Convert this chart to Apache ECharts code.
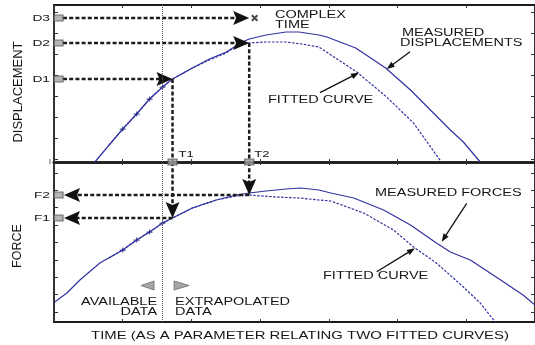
<!DOCTYPE html>
<html>
<head>
<meta charset="utf-8">
<script src="https://cdn.jsdelivr.net/npm/echarts@6/dist/echarts.min.js"></script>
<style>
  html, body { margin: 0; padding: 0; background: #fff; }
  #chart { width: 535px; height: 345px; }
</style>
</head>
<body>
<div id="chart"></div>
<script>
// ---- Scales -------------------------------------------------------------
const TIME_TICKS = [0, 1, 2, 3, 4, 5, 6, 7];
const DISP_TICKS = [3, 24, 45, 66, 87, 108, 129, 150];
const FORCE_TICKS = [10, 27.4, 44.8, 62.2, 79.6, 97, 114.4, 131.8, 149.2];
const DISP_MAX = 157;
const FORCE_MAX = 160;

// ---- Displacement panel: [time, displacement] ---------------------------
const dispMeasured = [
  [0.594, 0], [1.0, 33], [1.203, 48], [1.391, 63], [1.58, 75], [1.725, 83],
  [2.014, 94], [2.261, 103], [2.507, 110], [2.739, 120], [2.841, 123],
  [3.087, 127], [3.377, 130], [3.565, 130], [3.855, 127], [3.971, 125],
  [4.391, 114], [4.826, 94], [5.188, 72], [5.478, 52], [5.768, 32],
  [5.957, 20], [6.203, 0]
];
const dispFitted = [
  [0.8, 17], [1.0, 33], [1.203, 48], [1.391, 63], [1.58, 75], [1.725, 83],
  [2.014, 94], [2.261, 102], [2.507, 109], [2.652, 116], [2.841, 119],
  [3.087, 120], [3.377, 120], [3.609, 118], [3.855, 115], [4.406, 90],
  [4.841, 65], [5.232, 39], [5.638, 0]
];
const dispSamples = [[1.0, 33], [1.203, 48], [1.391, 63], [1.58, 75]];

// ---- Force panel: [time, force] -----------------------------------------
const forceMeasured = [
  [0.01, 20], [0.188, 29], [0.377, 42], [0.667, 59], [1.0, 72], [1.203, 82],
  [1.391, 90], [1.58, 99], [1.725, 104], [2.014, 114], [2.362, 122],
  [2.652, 127], [2.841, 129], [3.087, 131], [3.377, 133], [3.594, 134],
  [3.855, 132], [4.029, 129], [4.362, 124], [4.797, 112], [5.188, 97],
  [5.565, 79], [5.768, 70], [6.058, 62], [6.435, 45], [6.826, 27], [7.0, 17]
];
const forceFitted = [
  [0.8, 64], [1.0, 72], [1.203, 82], [1.391, 90], [1.58, 99], [1.725, 104],
  [2.014, 114], [2.362, 122], [2.652, 126], [2.841, 127], [3.232, 125],
  [3.565, 124], [3.855, 122], [4.029, 121], [4.507, 109], [4.942, 92],
  [5.232, 75], [5.565, 59], [5.957, 35], [6.203, 19], [6.42, 0]
];
const forceSamples = [[1.0, 72], [1.203, 82], [1.391, 90], [1.58, 99]];

// ---- Read-off levels ----------------------------------------------------
const T_LAST = 1.58;       // last available sample
const T1 = 1.725, T2 = 2.841, T_COMPLEX = 2.92;
const D1 = 83, D2 = 119, D3 = 144;
const F1 = 104, F2 = 127;

// ---- Styling ------------------------------------------------------------
const CURVE = '#3232a0';
const INK = '#1c1c1c';
const FONT = '"Liberation Sans", Arial, sans-serif';
const SX = 1.45;          // wide lettering
const MARK_W = 9;

const chart = echarts.init(document.getElementById('chart'), null, { renderer: 'canvas' });

function xAxisDef(grid, pos, lw) {
  return {
    type: 'value', gridIndex: grid, position: pos, min: 0, max: 7, interval: 1,
    axisLine: { show: true, onZero: false, lineStyle: { color: INK, width: lw } },
    axisTick: { show: true, inside: true, length: 3, lineStyle: { color: '#333', width: 1 } },
    axisLabel: { show: false }, splitLine: { show: false }
  };
}
function yAxisDef(grid, pos, max, ticks, lw) {
  return {
    type: 'value', gridIndex: grid, position: pos, min: 0, max: max,
    axisLine: { show: true, onZero: false, lineStyle: { color: INK, width: lw } },
    axisTick: { show: true, inside: true, length: 4, customValues: ticks, lineStyle: { color: '#333', width: 1 } },
    axisLabel: { show: false }, splitLine: { show: false }
  };
}

// dashed read-off arrow: [x1, y1, x2, y2, head]
function arrowItem(params, api) {
  const a = api.coord([api.value(0), api.value(1)]);
  const b = api.coord([api.value(2), api.value(3)]);
  if (api.value(0) === 0) a[0] += MARK_W;
  if (api.value(2) === 0) b[0] += MARK_W + 1;
  const head = api.value(4);
  const dx = b[0] - a[0], dy = b[1] - a[1];
  const len = Math.hypot(dx, dy) || 1;
  const ux = dx / len, uy = dy / len, nx = -uy, ny = ux;
  const L = 16, W = 7;
  const end = head ? [b[0] - ux * L * 0.6, b[1] - uy * L * 0.6] : b;
  const children = [{
    type: 'line',
    shape: { x1: a[0], y1: a[1], x2: end[0], y2: end[1] },
    style: { stroke: INK, lineWidth: 2.5, lineDash: [4, 2.2] }
  }];
  if (head) {
    const bx = b[0] - ux * L, by = b[1] - uy * L;
    children.push({
      type: 'polygon',
      shape: { points: [[b[0], b[1]], [bx + nx * W, by + ny * W],
                        [b[0] - ux * L * 0.82, b[1] - uy * L * 0.82], [bx - nx * W, by - ny * W]] },
      style: { fill: '#111' }
    });
  }
  return { type: 'group', children };
}

const PLUS = 'path://M0,1.5H2V0H3V1.5H5V2.5H3V4H2V2.5H0Z';
const CROSS = 'path://M0,1L1,0L2.5,1.5L4,0L5,1L3.5,2.5L5,4L4,5L2.5,3.5L1,5L0,4L1.5,2.5Z';
const dividerLine = {
  silent: true, symbol: 'none', label: { show: false },
  lineStyle: { type: 'dotted', color: '#555', width: 1 },
  data: [{ xAxis: T_LAST }]
};
const gray = { color: '#a4a4a4', borderColor: '#555', borderWidth: 1 };

const option = {
  animation: false,
  backgroundColor: '#fff',
  grid: [
    { left: 54, top: 5, width: 483, height: 157 },
    { left: 54, top: 162, width: 483, height: 160 }
  ],
  xAxis: [
    xAxisDef(0, 'top', 1.8), xAxisDef(0, 'bottom', 2.7),
    xAxisDef(1, 'top', 2.7), xAxisDef(1, 'bottom', 2)
  ],
  yAxis: [
    yAxisDef(0, 'left', DISP_MAX, DISP_TICKS, 1.8), yAxisDef(0, 'right', DISP_MAX, DISP_TICKS, 1.8),
    yAxisDef(1, 'left', FORCE_MAX, FORCE_TICKS, 1.8), yAxisDef(1, 'right', FORCE_MAX, FORCE_TICKS, 1.8)
  ],
  series: [
    { name: 'MEASURED DISPLACEMENTS', type: 'line', xAxisIndex: 1, yAxisIndex: 0, data: dispMeasured,
      showSymbol: false, lineStyle: { color: CURVE, width: 1.2 }, z: 2, markLine: dividerLine },
    { name: 'FITTED CURVE', type: 'line', xAxisIndex: 1, yAxisIndex: 0, data: dispFitted,
      showSymbol: false, lineStyle: { color: CURVE, width: 1.2, type: [2.5, 1.5] }, z: 2 },
    { type: 'scatter', xAxisIndex: 1, yAxisIndex: 0, data: dispSamples, symbol: PLUS, symbolSize: [6, 5],
      itemStyle: { color: '#24248a' }, z: 3 },
    { name: 'MEASURED FORCES', type: 'line', xAxisIndex: 3, yAxisIndex: 2, data: forceMeasured,
      showSymbol: false, lineStyle: { color: CURVE, width: 1.2 }, z: 2, markLine: dividerLine },
    { name: 'FITTED CURVE ', type: 'line', xAxisIndex: 3, yAxisIndex: 2, data: forceFitted,
      showSymbol: false, lineStyle: { color: CURVE, width: 1.2, type: [2.5, 1.5] }, z: 2 },
    { type: 'scatter', xAxisIndex: 3, yAxisIndex: 2, data: forceSamples, symbol: PLUS, symbolSize: [6, 5],
      itemStyle: { color: '#24248a' }, z: 3 },
    // read-off arrows, displacement panel
    { type: 'custom', xAxisIndex: 1, yAxisIndex: 0, renderItem: arrowItem, z: 4, silent: true,
      data: [[0, D3, T2, D3, 1], [0, D2, T2, D2, 1], [0, D1, T1, D1, 1],
             [T1, D1, T1, 0, 0], [T2, D2, T2, 0, 0]] },
    // read-off arrows, force panel
    { type: 'custom', xAxisIndex: 3, yAxisIndex: 2, renderItem: arrowItem, z: 4, silent: true,
      data: [[T1, FORCE_MAX, T1, F1, 1], [T2, FORCE_MAX, T2, F2, 1],
             [T1, F1, 0, F1, 1], [T2, F2, 0, F2, 1]] },
    // level markers
    { type: 'scatter', xAxisIndex: 1, yAxisIndex: 0, symbol: 'rect', symbolSize: [9, 6], symbolOffset: [4.5, 0],
      data: [[0, D1], [0, D2], [0, D3]], itemStyle: gray, z: 6 },
    { type: 'scatter', xAxisIndex: 1, yAxisIndex: 0, symbol: 'rect', symbolSize: [9, 6],
      data: [[T1, 0], [T2, 0]], itemStyle: gray, z: 6 },
    { type: 'scatter', xAxisIndex: 3, yAxisIndex: 2, symbol: 'rect', symbolSize: [9, 6], symbolOffset: [4.5, 0],
      data: [[0, F1], [0, F2]], itemStyle: gray, z: 6 },
    { type: 'scatter', xAxisIndex: 1, yAxisIndex: 0, symbol: CROSS, symbolSize: 7,
      data: [[T_COMPLEX, D3]], itemStyle: { color: INK }, z: 6 }
  ]
};
chart.setOption(option);

// ---- Lettering & pointers -----------------------------------------------
function txt(text, x, y, o) {
  o = o || {};
  return {
    type: 'text', x: x, y: y, rotation: o.rot || 0, scaleX: o.sx == null ? SX : o.sx, z: 20, silent: true,
    style: { text: text, fontFamily: FONT, fontSize: o.size || 10, fill: '#161616',
             align: o.align || 'left', verticalAlign: 'middle' }
  };
}
function pointer(x1, y1, x2, y2) {
  const dx = x2 - x1, dy = y2 - y1, len = Math.hypot(dx, dy);
  const ux = dx / len, uy = dy / len, nx = -uy, ny = ux, L = 8, W = 3;
  const bx = x2 - ux * L, by = y2 - uy * L;
  return [
    { type: 'line', z: 20, silent: true, shape: { x1: x1, y1: y1, x2: bx + ux * 2, y2: by + uy * 2 },
      style: { stroke: '#111', lineWidth: 1.3 } },
    { type: 'polygon', z: 20, silent: true,
      shape: { points: [[x2, y2], [bx + nx * W, by + ny * W], [bx - nx * W, by - ny * W]] },
      style: { fill: '#111' } }
  ];
}

const p0 = (x, y) => chart.convertToPixel({ xAxisIndex: 1, yAxisIndex: 0 }, [x, y]);
const p1 = (x, y) => chart.convertToPixel({ xAxisIndex: 3, yAxisIndex: 2 }, [x, y]);
const axisX = p0(0, 0)[0];
const midY = p0(0, 0)[1];
const divX = p0(T_LAST, 0)[0];
const labX = axisX - 4;

const g = [
  txt('D3', labX, p0(0, D3)[1], { align: 'right', size: 9.5 }),
  txt('D2', labX, p0(0, D2)[1], { align: 'right', size: 9.5 }),
  txt('D1', labX, p0(0, D1)[1], { align: 'right', size: 9.5 }),
  txt('F2', labX, p1(0, F2)[1], { align: 'right', size: 9.5 }),
  txt('F1', labX, p1(0, F1)[1], { align: 'right', size: 9.5 }),
  txt('T1', p0(T1, 0)[0] + 6, midY - 7.5, { size: 9 }),
  txt('T2', p0(T2, 0)[0] + 5, midY - 7.5, { size: 9 }),
  txt('I', axisX - 5, midY + 0.5, { size: 7, sx: 1 }),
  txt('COMPLEX', 275, 15),
  txt('TIME', 275, 25),
  txt('MEASURED', 402, 33),
  txt('DISPLACEMENTS', 400, 43),
  txt('FITTED CURVE', 268, 100),
  txt('MEASURED FORCES', 375, 193),
  txt('FITTED CURVE', 323, 276),
  txt('AVAILABLE', divX - 5.5, 302.5, { align: 'right' }),
  txt('DATA', divX - 5.5, 312, { align: 'right' }),
  txt('EXTRAPOLATED', divX + 12.5, 302.5),
  txt('DATA', divX + 12.5, 312),
  txt('TIME (AS A PARAMETER RELATING TWO FITTED CURVES)', 300, 336, { align: 'center', size: 11, sx: 1.354 }),
  txt('DISPLACEMENT', 18, 92, { align: 'center', size: 13, sx: 1, rot: Math.PI / 2 }),
  txt('FORCE', 18, 246, { align: 'center', size: 12.5, sx: 1, rot: Math.PI / 2 }),
  { type: 'polygon', z: 20, silent: true,
    shape: { points: [[divX - 21.5, 285.5], [divX - 8.5, 281], [divX - 8.5, 290]] },
    style: { fill: '#a6a6a6', stroke: '#6a6a6a', lineWidth: 0.8 } },
  { type: 'polygon', z: 20, silent: true,
    shape: { points: [[divX + 11.5, 281], [divX + 26.5, 285.5], [divX + 11.5, 290]] },
    style: { fill: '#a6a6a6', stroke: '#6a6a6a', lineWidth: 0.8 } }
].concat(
  pointer(320, 92.7, 359, 72.7),
  pointer(410, 51.7, 386.7, 69),
  pointer(466.7, 203.3, 441.7, 241.7),
  pointer(376.7, 271.7, 415, 248.3)
);
chart.setOption({ graphic: g });
</script>
</body>
</html>
